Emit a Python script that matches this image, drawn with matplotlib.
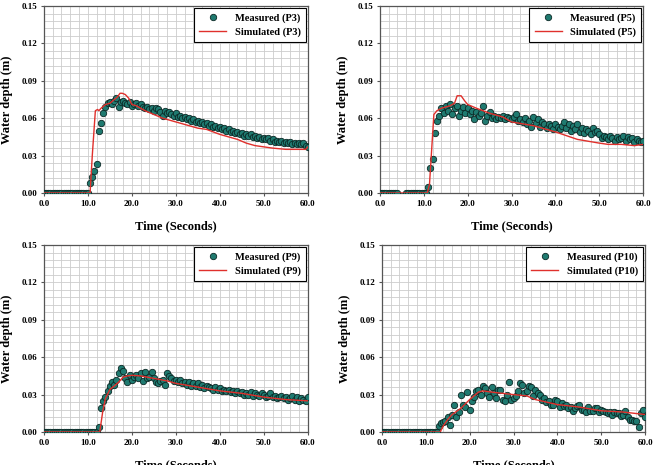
import numpy as np
import matplotlib
matplotlib.use("Agg")
import matplotlib.pyplot as plt
from matplotlib.ticker import MultipleLocator, FormatStrFormatter

plt.rcParams['font.family'] = ['Liberation Serif', 'DejaVu Serif']
plt.rcParams['font.weight'] = 'bold'

# measured depth, sampled every 0.5 s from 0 s (each row = 5 s)
meas_p3 = [
    0, 0, 0, 0, 0, 0, 0, 0, 0, 0,
    0, 0, 0, 0, 0, 0, 0, 0, 0, 0,
    0, .008, .013, .018, .023, .050, .056, .064, .069, .072,
    .073, .071, .074, .076, .069, .073, .074, .072, .071, .073,
    .070, .071, .072, .070, .071, .069, .068, .069, .067, .068,
    .066, .068, .067, .065, .062, .066, .064, .065, .063, .062,
    .064, .061, .062, .060, .061, .059, .060, .058, .059, .057,
    .058, .056, .057, .055, .056, .054, .055, .053, .054, .052,
    .053, .051, .052, .050, .051, .049, .050, .048, .049, .047,
    .048, .046, .047, .046, .047, .045, .046, .044, .045, .043,
    .044, .043, .044, .042, .043, .041, .042, .041, .042, .040,
    .041, .040, .041, .039, .040, .039, .040, .039, .040, .038,
    .037]
meas_p5 = [
    0, 0, 0, 0, 0, 0, 0, 0, 0, np.nan,
    np.nan, np.nan, 0, 0, 0, 0, 0, 0, 0, 0,
    0, 0, .005, .020, .027, .048, .058, .062, .068, .064,
    .070, .066, .071, .063, .068, .070, .062, .066, .069, .064,
    .068, .063, .066, .059, .065, .062, .064, .070, .058, .062,
    .065, .060, .062, .059, .061, .060, .062, .059, .061, .060,
    .059, .061, .063, .058, .059, .057, .060, .055, .058, .053,
    .061, .056, .059, .053, .057, .055, .052, .055, .054, .051,
    .055, .053, .051, .054, .057, .052, .055, .050, .054, .051,
    .055, .049, .052, .048, .051, .050, .047, .052, .049, .050,
    .047, .044, .046, .045, .043, .046, .044, .042, .045, .043,
    .044, .046, .042, .045, .043, .044, .041, .043, .042, .041,
    .042]
meas_p9 = [
    0, 0, 0, 0, 0, 0, 0, 0, 0, 0,
    0, 0, 0, 0, 0, 0, 0, 0, 0, 0,
    0, 0, 0, 0, 0, .004, .019, .025, .028, .033,
    .037, .040, .038, .042, .047, .051, .049, .043, .040, .046,
    .042, .044, .046, .043, .047, .041, .048, .043, .044, .048,
    .043, .040, .039, .041, .042, .038, .047, .045, .043, .041,
    .042, .040, .042, .039, .040, .038, .040, .037, .039, .037,
    .039, .036, .038, .035, .037, .036, .035, .034, .036, .034,
    .035, .033, .034, .033, .034, .032, .033, .031, .033, .031,
    .032, .030, .031, .030, .032, .029, .031, .030, .029, .031,
    .030, .028, .029, .031, .028, .029, .027, .028, .029, .027,
    .028, .026, .027, .029, .026, .028, .025, .027, .026, .025,
    .028]
meas_p10 = [
    0, 0, 0, 0, 0, 0, 0, 0, 0, 0,
    0, 0, 0, 0, 0, 0, 0, 0, 0, 0,
    0, 0, 0, 0, 0, 0, .005, .007, .008, .009,
    .012, .006, .014, .022, .012, .016, .030, .022, .020, .032,
    .018, .025, .028, .033, .034, .030, .037, .035, .031, .028,
    .036, .031, .027, .034, .034, .026, .025, .030, .040, .026,
    .027, .029, .033, .039, .038, .031, .033, .037, .036, .029,
    .034, .031, .030, .026, .027, .024, .025, .022, .022, .026,
    .025, .020, .023, .021, .022, .019, .020, .017, .019, .021,
    .022, .018, .018, .016, .020, .017, .017, .019, .019, .016,
    .018, .017, .016, .015, .016, .014, .016, .015, .015, .013,
    .014, .017, .012, .010, .010, .009, .009, .004, .015, .018,
    .012]

# simulated depth (breakpoints of the model curve)
sim_t_p3 = [0, 10.5, 11.0, 11.7, 12.2, 12.5, 13.0, 14.0, 15.0, 16.0, 16.7, 17.3, 17.8,
            18.5, 19.3, 20.0, 21.0, 22.0, 23.0, 25.0, 27.0, 29.0, 31.0, 33.0, 35.0,
            37.0, 40.0, 42.0, 44.0, 46.0, 48.0, 50.0, 52.0, 55.0, 58.0, 59.5, 60.0]
sim_p3 = [0, 0, .030, .066, .067, .066, .068, .071, .072, .075, .077, .080, .080,
          .079, .076, .071, .070, .068, .066, .063, .060, .058, .056, .054, .052,
          .051, .047, .045, .043, .040, .038, .037, .036, .035, .035, .035, .037]
sim_t_p5 = [0, 10.8, 11.3, 12.3, 13.0, 14.0, 15.0, 16.0, 17.0, 17.6, 18.5, 19.3,
            20.0, 22.0, 25.0, 28.0, 30.0, 35.0, 40.0, 45.0, 50.0, 52.0, 55.0, 58.0, 60.0]
sim_p5 = [0, 0, .007, .063, .066, .068, .069, .070, .072, .078, .078, .074,
          .071, .068, .064, .061, .057, .054, .049, .043, .040, .039, .039, .038, .039]
sim_t_p9 = [0, 12.7, 13.4, 14.0, 15.0, 16.0, 17.0, 18.0, 19.0, 20.0, 22.0, 25.0,
            28.0, 30.0, 35.0, 40.0, 45.0, 50.0, 55.0, 60.0]
sim_p9 = [0, 0, .017, .027, .034, .037, .040, .044, .045, .0455, .045, .043,
          .041, .039, .036, .033, .031, .028, .026, .025]
sim_t_p10 = [0, 13.3, 14.0, 15.0, 16.0, 18.0, 20.0, 22.0, 23.0, 25.0, 30.0, 33.0,
             35.0, 40.0, 45.0, 50.0, 55.0, 60.0]
sim_p10 = [0, 0, .005, .010, .014, .019, .026, .032, .033, .032, .030, .029,
           .026, .022, .020, .017, .016, .014]

panels = [
    ("P3", meas_p3, sim_t_p3, sim_p3, [0.067, 0.585, 0.403, 0.402]),
    ("P5", meas_p5, sim_t_p5, sim_p5, [0.580, 0.585, 0.402, 0.402]),
    ("P9", meas_p9, sim_t_p9, sim_p9, [0.067, 0.071, 0.403, 0.402]),
    ("P10", meas_p10, sim_t_p10, sim_p10, [0.583, 0.071, 0.402, 0.402]),
]

fig = plt.figure(figsize=(6.55, 4.65), dpi=100)

for name, meas, st, sv, pos in panels:
    ax = fig.add_axes(pos)
    t = np.arange(len(meas)) * 0.5
    ax.plot(t, meas, 'o', ms=4.6, mfc='#1f7a70', mec='#0b2825', mew=0.6,
            label='Measured (%s)' % name, zorder=3)
    ax.plot(st, sv, '-', color='#e0302c', lw=1.0, label='Simulated (%s)' % name, zorder=4)

    ax.set_xlim(0, 60)
    ax.set_ylim(0, 0.15)
    ax.xaxis.set_major_locator(MultipleLocator(10))
    ax.xaxis.set_minor_locator(MultipleLocator(2))
    ax.yaxis.set_major_locator(MultipleLocator(0.03))
    ax.yaxis.set_minor_locator(MultipleLocator(0.006))
    ax.xaxis.set_major_formatter(FormatStrFormatter('%.1f'))
    ax.yaxis.set_major_formatter(FormatStrFormatter('%.2f'))
    ax.grid(which='both', color='#cccccc', lw=0.6)
    ax.set_axisbelow(True)
    ax.tick_params(which='major', labelsize=6.5, length=2, color='#555555', pad=3)
    ax.tick_params(which='minor', length=0)
    for s in ax.spines.values():
        s.set_color('#555555')
        s.set_linewidth(0.9)

    ax.set_xlabel('Time (Seconds)', fontsize=9, fontweight='bold', labelpad=9)
    ax.set_ylabel('Water depth (m)', fontsize=9, fontweight='bold', labelpad=6)

    leg = ax.legend(loc='upper right', fontsize=7.5, fancybox=False, framealpha=1,
                    edgecolor='black', borderpad=0.5, labelspacing=0.45,
                    handlelength=2.6, handletextpad=0.8, borderaxespad=0.2)
    leg.get_frame().set_linewidth(0.8)

plt.savefig('out.png', dpi=100)
